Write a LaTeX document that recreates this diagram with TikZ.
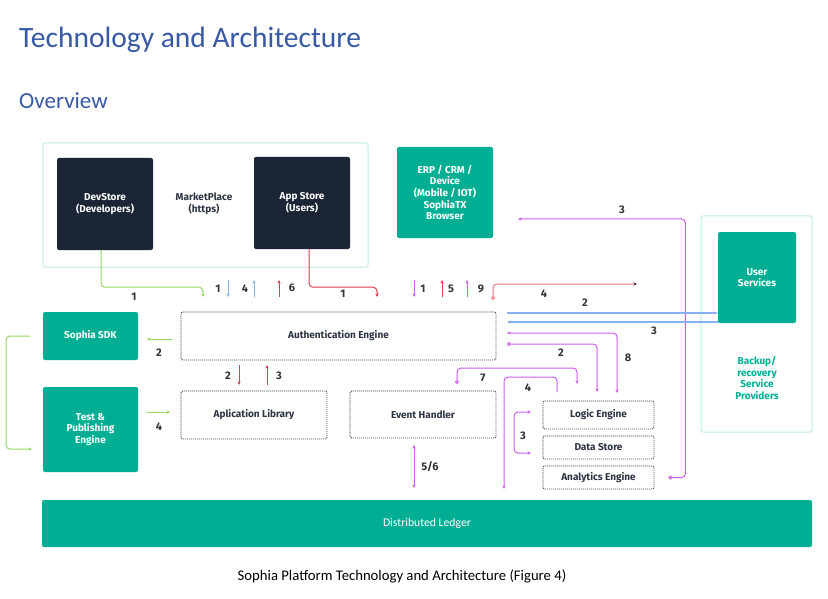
\documentclass[tikz,border=0pt]{standalone}
\usepackage{fontspec}
\setmainfont{Fira Sans}
\newfontfamily\carl{Carlito}
\usetikzlibrary{arrows.meta,calc}
\definecolor{tealc}{HTML}{00AE94}
\definecolor{navyc}{HTML}{1B2536}
\definecolor{mintc}{HTML}{BFEDE2}
\definecolor{greenc}{HTML}{93D95E}
\definecolor{redc}{HTML}{E23A4E}
\definecolor{redl}{HTML}{EC7880}
\definecolor{bluec}{HTML}{86B3EE}
\definecolor{magc}{HTML}{CF5DEE}
\definecolor{headc}{HTML}{3859A6}
\definecolor{txtc}{HTML}{2D3441}
\definecolor{numc}{HTML}{333333}
\definecolor{dashc}{HTML}{4A4F58}
\tikzset{
  box/.style={rectangle, inner sep=1pt, align=center, font=\fontsize{10}{11.6}\selectfont\bfseries},
  navybox/.style={box, fill=navyc, text=white, rounded corners=2pt},
  tealbox/.style={box, fill=tealc, text=white, rounded corners=2pt},
  dbox/.style={box, draw=dashc, dash pattern=on 1.1pt off 0.9pt, line width=0.9pt, rounded corners=2pt, text=txtc},
  mintbox/.style={rectangle, draw=mintc, line width=1pt, rounded corners=2pt},
  num/.style={font=\fontsize{11}{12}\selectfont\bfseries, text=numc, inner sep=0pt},
  conn/.style={line width=1pt, rounded corners=4pt, -{Stealth[length=3.5pt,width=3.2pt]}},
  dconn/.style={line width=1pt, rounded corners=4pt, {Stealth[length=3.5pt,width=3.2pt]}-{Stealth[length=3.5pt,width=3.2pt]}},
  oconn/.style={line width=1pt, rounded corners=4pt, {Circle[open,length=4pt,fill=white]}-{Stealth[length=3.5pt,width=3.2pt]}},
  rconn/.style={line width=1pt, rounded corners=4pt, {Circle[open,length=4pt,fill=white]}-{Stealth[length=3.5pt,width=3.2pt,color=black!80]}},
}
\begin{document}
\begin{tikzpicture}[x=1pt,y=-1pt]
\useasboundingbox (0,0) rectangle (828,599);
\fill[white] (0,0) rectangle (828,599);

% headings
\node[anchor=base west, inner sep=0pt, text=headc, font=\carl\fontsize{29.5}{31}\selectfont] (title) at (19,48) {Technology and Architecture};
\node[anchor=base west, inner sep=0pt, text=headc, font=\carl\fontsize{23}{25}\selectfont] (overview) at (19,109) {Overview};

% boxes
\node[mintbox, minimum width=325pt, minimum height=124pt] (market) at (205.5,205) {};
\node[navybox, minimum width=96pt, minimum height=92pt] (dev) at (105,204) {DevStore\\(Developers)};
\node[navybox, minimum width=96pt, minimum height=92pt] (app) at (302,203) {App Store\\(Users)};
\node[box, text=txtc] (mptext) at (204,204) {MarketPlace\\(https)};
\node[tealbox, minimum width=96pt, minimum height=91pt] (erp) at (445,192.5) {ERP / CRM /\\Device\\(Mobile / IOT)\\SophiaTX\\Browser};
\node[mintbox, minimum width=111pt, minimum height=216pt] (backup) at (756.5,324) {};
\node[tealbox, minimum width=78pt, minimum height=91pt] (us) at (757,277.5) {User\\Services};
\node[box, text=tealc] (bktext) at (757,378) {Backup/\\recovery\\Service\\Providers};
\node[tealbox, minimum width=95pt, minimum height=48pt] (sdk) at (90.5,336) {Sophia SDK};
\node[tealbox, minimum width=95pt, minimum height=85pt] (tpe) at (90.5,429.5) {Test \&\\Publishing\\Engine};
\node[dbox, minimum width=315pt, minimum height=48pt] (auth) at (338.5,336) {Authentication Engine};
\node[dbox, minimum width=146pt, minimum height=48pt] (alib) at (254,415) {Aplication Library};
\node[dbox, minimum width=146pt, minimum height=47pt] (evt) at (423,414.5) {Event Handler};
\node[dbox, minimum width=111pt, minimum height=28pt] (logic) at (598.5,415) {Logic Engine};
\node[dbox, minimum width=111pt, minimum height=23pt] (ds) at (598.5,447.5) {Data Store};
\node[dbox, minimum width=111pt, minimum height=23pt] (ana) at (598.5,477.5) {Analytics Engine};
\node[tealbox, minimum width=770pt, minimum height=47pt, font=\carl\fontsize{11.7}{13}\selectfont] (ledger) at (427,523.5) {Distributed Ledger};
\node[anchor=base, inner sep=0pt, text=black, font=\carl\fontsize{14.7}{16}\selectfont] (caption) at (402,580) {Sophia Platform Technology and Architecture (Figure 4)};

% free ends
\coordinate (g1e) at (203,297);
\coordinate (b1s) at (228,280); \coordinate (b1e) at (228,297);
\coordinate (b4s) at (254,297); \coordinate (b4e) at (254,280);
\coordinate (r6s) at (279,297); \coordinate (r6e) at (279,280);
\coordinate (r1e) at (377,297);
\coordinate (m1s) at (414,280); \coordinate (m1e) at (414,297);
\coordinate (r5s) at (442,297); \coordinate (r5e) at (442,280);
\coordinate (m9s) at (467,297); \coordinate (m9e) at (467,280);
\coordinate (r4s) at (493,300); \coordinate (r4e) at (637,284);
\coordinate (m3e) at (518,219);
\coordinate (bl2s) at (507,313);
\coordinate (bl3e) at (507,322);
\coordinate (m8e) at (507,333); \coordinate (m8s) at (617,393);
\coordinate (m2s) at (507,344); \coordinate (m2e) at (597,392);
\coordinate (m7s) at (457,384); \coordinate (m7e) at (577,384);
\coordinate (m4s) at (557,392); \coordinate (m4e) at (504,489);
\coordinate (m3bs) at (531,412); \coordinate (m3be) at (531,453);
\coordinate (m56s) at (414,445); \coordinate (m56e) at (414,488);
\coordinate (g2s) at (172,339); \coordinate (g2e) at (147,339);
\coordinate (g4s) at (147,412); \coordinate (g4e) at (170,412);
\coordinate (gbs) at (30,336); \coordinate (gbe) at (32,449);
\coordinate (r2s) at (239,365); \coordinate (r2e) at (239,385);
\coordinate (r3s) at (267,385); \coordinate (r3e) at (267,365);

% connectors
\draw[conn, greenc] ([xshift=-4pt]dev.south) -- ++(0,37) -| (g1e);
\draw[conn, bluec] (b1s) -- (b1e);
\draw[conn, bluec] (b4s) -- (b4e);
\draw[conn, redc] (r6s) -- (r6e);
\draw[conn, redc] ([xshift=7pt]app.south) -- ++(0,38) -| (r1e);
\draw[conn, magc] (m1s) -- (m1e);
\draw[conn, redc] (r5s) -- (r5e);
\draw[conn, magc] (m9s) -- (m9e);
\draw[rconn, redl] (r4s) |- (r4e);
\draw[oconn, magc] ([xshift=14pt]ana.east) -- ++(17,0) |- (m3e);
\draw[conn, bluec, line width=1.3pt] (bl2s) -- (bl2s -| us.west);
\draw[conn, bluec, line width=1.3pt] (bl3e -| us.west) -- (bl3e);
\draw[dconn, magc] (m8s) |- (m8e);
\draw[oconn, magc] (m2s) -| (m2e);
\draw[oconn, magc] (m7s) -- ++(0,-16) -| (m7e);
\draw[conn, magc] (m4s) -- ++(0,-15) -| (m4e);
\draw[dconn, magc] (m3bs) -- ++(-17,0) |- (m3be);
\draw[dconn, magc] (m56s) -- (m56e);
\draw[conn, greenc] (g2s) -- (g2e);
\draw[conn, greenc] (g4s) -- (g4e);
\draw[conn, greenc] (gbs) -- ++(-24,0) |- (gbe);
\draw[conn, redc] (r2s) -- (r2e);
\draw[conn, redc] (r3s) -- (r3e);

% labels
\node[num] (l1) at (134,297) {1};
\node[num] (l2) at (218,289) {1};
\node[num] (l3) at (245,289) {4};
\node[num] (l4) at (292,288) {6};
\node[num] (l5) at (343,294) {1};
\node[num] (l6) at (423,289) {1};
\node[num] (l7) at (451,289) {5};
\node[num] (l8) at (481,289) {9};
\node[num] (l9) at (544,294) {4};
\node[num] (l10) at (622,210) {3};
\node[num] (l11) at (585,303) {2};
\node[num] (l12) at (654,331) {3};
\node[num] (l13) at (628,358) {8};
\node[num] (l14) at (561,353) {2};
\node[num] (l15) at (483,378) {7};
\node[num] (l16) at (528,388) {4};
\node[num] (l17) at (523,436) {3};
\node[num] (l18) at (430,467) {5/6};
\node[num] (l19) at (159,353) {2};
\node[num] (l20) at (159,427) {4};
\node[num] (l21) at (228,376) {2};
\node[num] (l22) at (279,376) {3};
\end{tikzpicture}
\end{document}
